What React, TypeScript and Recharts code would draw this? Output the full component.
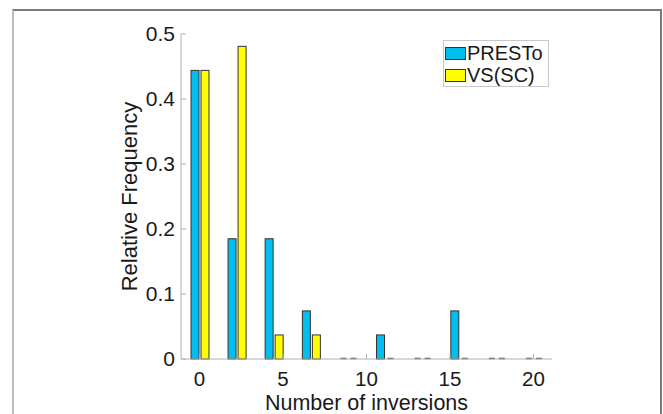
import React from 'react';
import { BarChart, Bar, XAxis, YAxis, Legend } from 'recharts';

// Bin centres of the histogram (Number of inversions)
const binCenters = [0, 2.22, 4.44, 6.67, 8.89, 11.11, 13.33, 15.56, 17.78, 20];
// Relative frequencies
const prestoValues = [0.444, 0.185, 0.185, 0.074, 0, 0.037, 0, 0.074, 0, 0];
const vsscValues = [0.444, 0.481, 0.037, 0.037, 0, 0, 0, 0, 0, 0];
const xTicks = [0, 5, 10, 15, 20];
const yTicks = [0, 0.1, 0.2, 0.3, 0.4, 0.5];
const seriesNames = ['PRESTo', 'VS(SC)'];
const seriesColors = ['#00BFEF', '#FFFF00'];
const xLabel = 'Number of inversions';
const yLabel = 'Relative Frequency';

const data = binCenters.map((x, i) => ({ x, presto: prestoValues[i], vssc: vsscValues[i] }));

const FONT = '"Liberation Sans", Arial, Helvetica, sans-serif';
const AXIS_COLOR = '#b0b0b0';
const TEXT_COLOR = '#1a1a1a';
const X_DOMAIN: [number, number] = [-1.11, 21.11];
const Y_DOMAIN: [number, number] = [0, 0.5];

const BarShape = (props: any) => {
  const { x, y, width, height, fill } = props;
  if (x == null || y == null) return null;
  if (!height || Math.abs(height) < 0.5) {
    return (
      <line x1={x + 1} x2={x + width - 1} y1={y - 0.5} y2={y - 0.5} stroke="#555" strokeWidth={1.5} />
    );
  }
  return <rect x={x} y={y} width={width} height={height} fill={fill} stroke="#333" strokeWidth={1} />;
};

const XLabelContent = (props: any) => {
  const vb = props.viewBox || {};
  const cx = vb.x + vb.width / 2;
  const by = vb.y + vb.height - 4.5;
  return (
    <text x={cx} y={by} textAnchor="middle" fontSize={21.5} fontFamily={FONT} fill={TEXT_COLOR}>
      {xLabel}
    </text>
  );
};

const YLabelContent = (props: any) => {
  const vb = props.viewBox || {};
  const cx = vb.x + vb.width - 44;
  const cy = vb.y + vb.height / 2;
  return (
    <text
      x={cx}
      y={cy}
      transform={`rotate(-90 ${cx} ${cy})`}
      textAnchor="middle"
      fontSize={22}
      fontFamily={FONT}
      fill={TEXT_COLOR}
    >
      {yLabel}
    </text>
  );
};

const LegendContent = () => (
  <div
    style={{
      width: 104,
      height: 45,
      border: '1px solid #c8c8c8',
      background: '#fff',
      paddingTop: 0,
      boxSizing: 'content-box',
      fontFamily: FONT,
      fontSize: 20,
      color: TEXT_COLOR,
    }}
  >
    {seriesNames.map((name, i) => (
      <div key={name} style={{ height: 22, lineHeight: '22px', display: 'flex', alignItems: 'center', marginTop: i === 0 ? 1 : 0 }}>
        <div
          style={{
            width: 19,
            height: 11,
            marginLeft: 1,
            marginRight: 1,
            background: seriesColors[i],
            border: '1px solid #333',
          }}
        />
        <span style={{ whiteSpace: 'nowrap' }}>{name}</span>
      </div>
    ))}
  </div>
);

export default function App() {
  return (
    <div style={{ position: 'absolute', left: 0, top: 0, width: 663, height: 414, overflow: 'hidden', background: '#fff' }}>
      <div
        style={{
          position: 'absolute',
          left: 12,
          top: 9,
          width: 646,
          height: 430,
          borderTop: '2px solid #7a7a7a',
          borderLeft: '2px solid #bdbdbd',
          borderRight: '2px solid #7a7a7a',
        }}
      />
      <div style={{ position: 'absolute', left: 0, top: 0 }}>
        <BarChart
          width={663}
          height={414}
          data={data}
          margin={{ top: 34, right: 111, left: 0, bottom: 0 }}
          barSize={8}
          barGap={2}
        >
          <XAxis
            dataKey="x"
            type="number"
            domain={X_DOMAIN}
            ticks={xTicks}
            allowDataOverflow
            height={55}
            stroke={AXIS_COLOR}
            tickSize={-5}
            tickMargin={17}
            tick={{ fill: TEXT_COLOR, fontSize: 20.5, fontFamily: FONT }}
            label={(p: any) => <XLabelContent {...p} />}
          />
          <XAxis
            xAxisId="top"
            orientation="top"
            dataKey="x"
            type="number"
            domain={X_DOMAIN}
            ticks={xTicks}
            allowDataOverflow
            height={0}
            stroke={AXIS_COLOR}
            tickSize={-5}
            tick={false}
          />
          <YAxis
            type="number"
            domain={Y_DOMAIN}
            ticks={yTicks}
            width={181}
            stroke={AXIS_COLOR}
            tickSize={-5}
            tickMargin={11}
            tick={{ fill: TEXT_COLOR, fontSize: 21, fontFamily: FONT }}
            tickFormatter={(v: number) => String(v)}
            label={(p: any) => <YLabelContent {...p} />}
          />
          <YAxis
            yAxisId="right"
            orientation="right"
            type="number"
            domain={Y_DOMAIN}
            ticks={yTicks}
            width={0}
            stroke={AXIS_COLOR}
            tickSize={-5}
            tick={false}
          />
          <Legend
            layout="vertical"
            align="center"
            verticalAlign="middle"
            wrapperStyle={{ position: 'absolute', left: 443, top: 40, width: 'auto', height: 'auto' }}
            content={() => <LegendContent />}
          />
          <Bar dataKey="presto" name={seriesNames[0]} fill={seriesColors[0]} isAnimationActive={false} shape={(p: any) => <BarShape {...p} />} />
          <Bar dataKey="vssc" name={seriesNames[1]} fill={seriesColors[1]} isAnimationActive={false} shape={(p: any) => <BarShape {...p} />} />
        </BarChart>
      </div>
    </div>
  );
}
